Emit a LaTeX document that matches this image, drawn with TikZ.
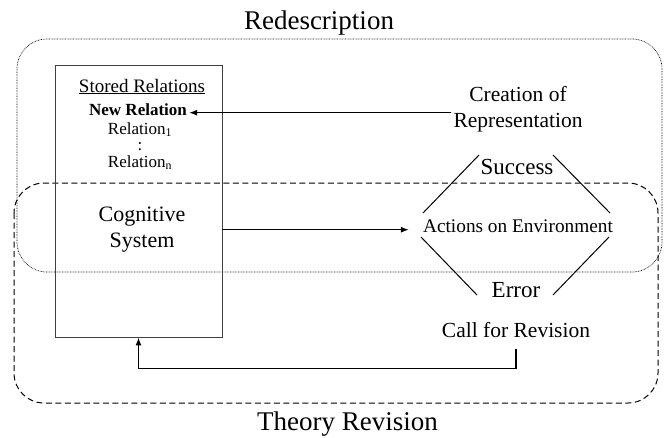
\documentclass[tikz,border=0pt]{standalone}
\usepackage{fontspec}
\setmainfont{Liberation Serif}
\usetikzlibrary{arrows.meta}

\tikzset{
  txt/.style={anchor=base, inner sep=2pt},
  big/.style={font=\fontsize{27}{30}\selectfont},
  mid/.style={font=\fontsize{21.5}{26}\selectfont},
  small/.style={font=\fontsize{17}{20}\selectfont, inner sep=1pt},
  arr/.style={line width=1.2pt, -{Latex[length=8pt,width=6pt]}},
  redesc/.style={line width=0.7pt, dash pattern=on 0.7pt off 0.9pt, rounded corners=30pt},
  revise/.style={line width=1pt, dash pattern=on 6pt off 3.5pt, rounded corners=30pt},
  hexline/.style={line width=1pt}
}

\begin{document}
\begin{tikzpicture}[x=1pt,y=-1pt]
  \useasboundingbox (0,0) rectangle (667,437);
  % the two regions
  \draw[redesc] (17,39) rectangle (662,272);
  \draw[revise] (14,183) rectangle (658,403);
  \node[txt,big] (redtitle) at (319,29) {Redescription};
  \node[txt,big] (revtitle) at (347.5,430) {Theory Revision};

  % cognitive system
  \node[draw=black!75, line width=0.9pt, minimum width=167pt, minimum height=272pt, inner sep=0pt] (cogsys) at (138.5,201) {};
  \node[txt, font=\fontsize{19}{22}\selectfont] (stored) at (142,92) {\underline{Stored Relations}};
  \node[txt, small, font=\fontsize{17}{20}\selectfont\bfseries] (newrel) at (138,115) {New Relation};
  \node[txt, small] (rel1) at (140,134) {Relation\textsubscript{1}};
  \node[txt, small, inner sep=0pt] (vdots) at (140,150) {:};
  \node[txt, small] (reln) at (140,167) {Relation\textsubscript{n}};
  \node[font=\fontsize{22}{26}\selectfont, align=center] (cogtext) at (142,230) {Cognitive\\System};

  % environment side
  \node[mid, align=center, inner sep=2pt] (creation) at (518,109) {Creation of\\Representation};
  \node[txt, font=\fontsize{23}{26}\selectfont] (success) at (517,174) {Success};
  \node[txt, font=\fontsize{19.3}{22}\selectfont] (actions) at (518,232) {Actions on Environment};
  \node[txt, font=\fontsize{23}{26}\selectfont] (error) at (516,297) {Error};
  \node[txt, mid] (callrev) at (516,337) {Call for Revision};

  % hexagon round the actions
  \draw[hexline] (423,213) -- (479,155);
  \draw[hexline] (553,155) -- (610,213);
  \draw[hexline] (421,237) -- (477,295);
  \draw[hexline] (609,237) -- (553,295);

  % arrows
  \draw[arr] (creation.west |- newrel.mid east) -- ([xshift=1pt]newrel.mid east);
  \draw[arr] (cogsys.east |- actions.mid west) -- ([xshift=-12pt]actions.mid west);
  \draw[arr] ([yshift=-10pt]callrev.south) -- ++(0,19) -| (cogsys.south);
\end{tikzpicture}
\end{document}
